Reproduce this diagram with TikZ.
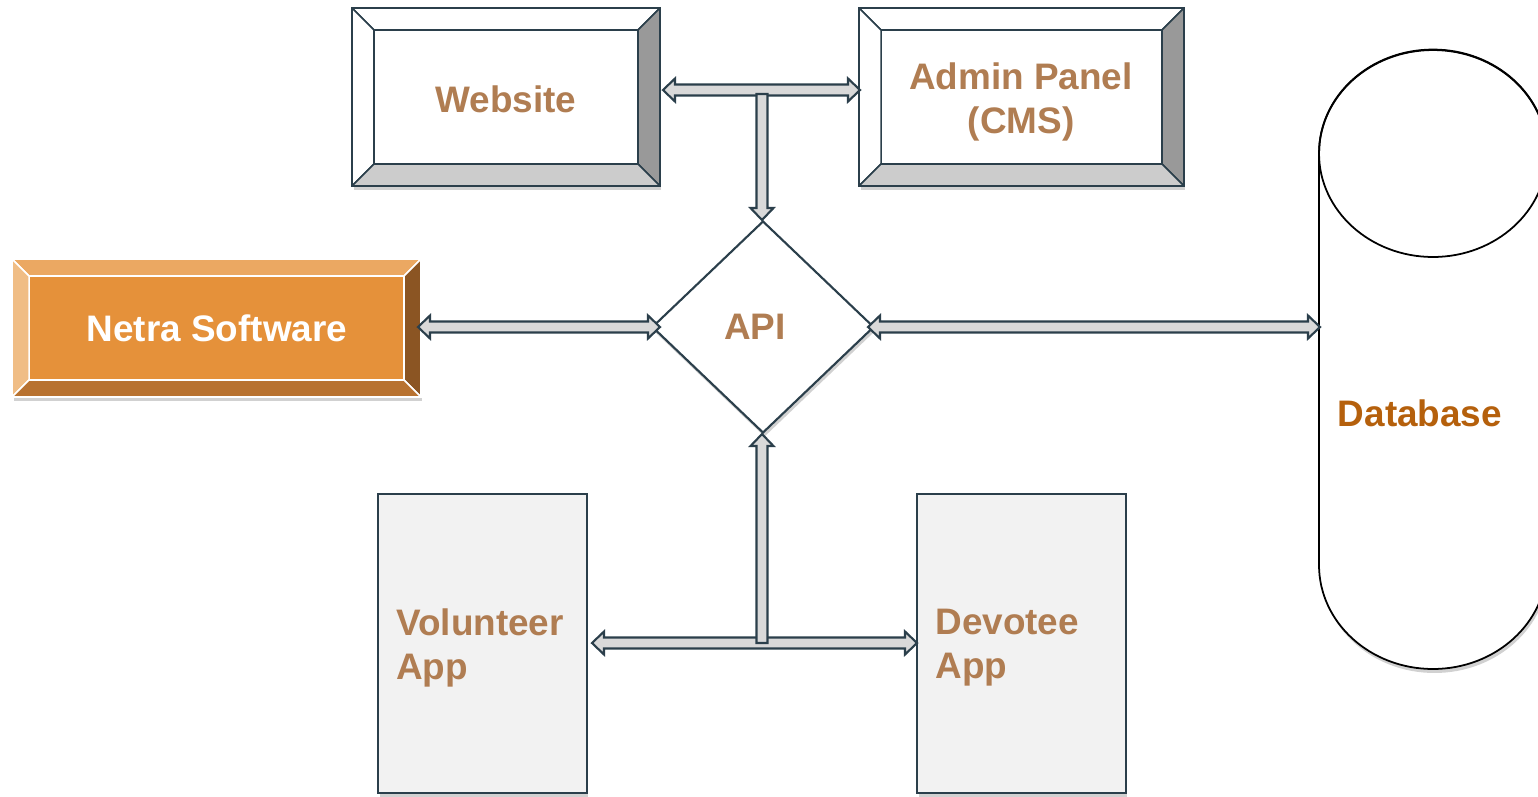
\documentclass[tikz,border=0pt]{standalone}
\usepackage{fontspec}
\setmainfont{Liberation Sans}
\usetikzlibrary{calc,shapes.geometric,shadows}
\definecolor{edge}{HTML}{2B3F4B}
\definecolor{txt}{HTML}{B07D52}
\definecolor{dbtxt}{HTML}{B5600C}
\definecolor{arrfill}{HTML}{D9D9D9}
\definecolor{bevR}{HTML}{999999}
\definecolor{bevB}{HTML}{CCCCCC}
\definecolor{nFace}{HTML}{E5913A}
\definecolor{nTop}{HTML}{EBA862}
\definecolor{nLeft}{HTML}{F0BD85}
\definecolor{nRight}{HTML}{8B5523}
\definecolor{nBot}{HTML}{B87230}
\definecolor{appfill}{HTML}{F2F2F2}
\def\aL{0.24cm}\def\aH{0.23cm}\def\aS{0.11cm}
\tikzset{
  lbl/.style={font=\fontsize{21}{25}\selectfont\bfseries, text=txt, align=center, inner sep=0},
  blockarrow/.style={draw=edge, fill=arrfill, line width=1.2pt, line join=miter},
  myshadow/.style={drop shadow={shadow xshift=0.03cm, shadow yshift=-0.08cm, opacity=0.18, fill=black}},
  boxnode/.style={rectangle, inner sep=0, outer sep=0},
  appbox/.style={rectangle, inner sep=0, outer sep=0, draw=edge, fill=appfill, line width=1.3pt,
    minimum width=4.18cm, minimum height=5.98cm, myshadow},
}
% bevel: #1 node, #2 bevel px, #3 top, #4 left, #5 right, #6 bottom, #7 line colour
\newcommand\bevel[7]{%
  \coordinate (#1-a) at ($(#1.north west)+(#2,#2)$);
  \coordinate (#1-b) at ($(#1.north east)+(-#2,#2)$);
  \coordinate (#1-c) at ($(#1.south east)+(-#2,-#2)$);
  \coordinate (#1-d) at ($(#1.south west)+(#2,-#2)$);
  \filldraw[fill=#3, draw=#7, line width=0.9pt, line join=round] (#1.north west) -- (#1.north east) -- (#1-b) -- (#1-a) -- cycle;
  \filldraw[fill=#4, draw=#7, line width=0.9pt, line join=round] (#1.north west) -- (#1-a) -- (#1-d) -- (#1.south west) -- cycle;
  \filldraw[fill=#5, draw=#7, line width=0.9pt, line join=round] (#1.north east) -- (#1.south east) -- (#1-c) -- (#1-b) -- cycle;
  \filldraw[fill=#6, draw=#7, line width=0.9pt, line join=round] (#1.south west) -- (#1-d) -- (#1-c) -- (#1.south east) -- cycle;
  \draw[draw=#7, line width=1.6pt] (#1.north west) rectangle (#1.south east);
}
\newcommand\hdbl[2]{\draw[blockarrow] let \p1=(#1), \p2=(#2) in
  (\x1,\y1) -- (\x1+\aL,\y1+\aH) -- (\x1+\aL,\y1+\aS) -- (\x2-\aL,\y1+\aS) -- (\x2-\aL,\y1+\aH)
  -- (\x2,\y1) -- (\x2-\aL,\y1-\aH) -- (\x2-\aL,\y1-\aS) -- (\x1+\aL,\y1-\aS) -- (\x1+\aL,\y1-\aH) -- cycle;}
\newcommand\vdown[2]{\draw[blockarrow] let \p1=(#1), \p2=(#2) in
  (\x1-\aS,\y1) -- (\x1-\aS,\y2+\aL) -- (\x1-\aH,\y2+\aL) -- (\x1,\y2) -- (\x1+\aH,\y2+\aL)
  -- (\x1+\aS,\y2+\aL) -- (\x1+\aS,\y1) -- cycle;}
\newcommand\vup[2]{\draw[blockarrow] let \p1=(#1), \p2=(#2) in
  (\x1-\aS,\y1) -- (\x1-\aS,\y2-\aL) -- (\x1-\aH,\y2-\aL) -- (\x1,\y2) -- (\x1+\aH,\y2-\aL)
  -- (\x1+\aS,\y2-\aL) -- (\x1+\aS,\y1) -- cycle;}
\begin{document}
\begin{tikzpicture}[x=0.02cm, y=-0.02cm]
\clip (0,0) rectangle (1538,796);
\fill[white] (0,0) rectangle (1538,796);

% Website
\node[boxnode, fill=white, minimum width=6.16cm, minimum height=3.56cm, myshadow] (web) at (506,97) {};
\bevel{web}{22}{white}{white}{bevR}{bevB}{edge}
\node[lbl] (webt) at (506,99) {Website};

% Admin Panel
\node[boxnode, fill=white, minimum width=6.5cm, minimum height=3.56cm, myshadow] (adm) at (1021.5,97) {};
\bevel{adm}{22}{white}{white}{bevR}{bevB}{edge}
\node[lbl] (admt) at (1021,102) {Admin Panel\\(CMS)};

% Netra Software
\node[boxnode, fill=nFace, minimum width=8.18cm, minimum height=2.76cm, myshadow] (net) at (216.5,328) {};
\bevel{net}{17}{nTop}{nLeft}{nRight}{nBot}{white}
\node[lbl, text=white] (nett) at (217,328) {Netra Software};

% API
\node[diamond, draw=edge, fill=white, line width=1.2pt, minimum width=4.44cm, minimum height=4.24cm,
      inner sep=0, myshadow] (api) at (763,327) {};
\node[lbl] (apit) at (755,327) {API};

% Apps
\node[appbox] (vol) at (482.5,643.5) {};
\node[lbl, align=left, anchor=west] (volt) at (396,648) {Volunteer\\App};
\node[appbox] (dev) at (1021.5,643.5) {};
\node[lbl, align=left, anchor=west] (devt) at (935,648) {Devotee\\App};

% Database
\draw[fill=white, draw=black, line width=1pt, myshadow] (1319,153) -- (1319,565)
  arc[start angle=180, end angle=360, x radius=2.28cm, y radius=2.08cm] -- (1547,153)
  arc[start angle=0, end angle=180, x radius=2.28cm, y radius=2.07cm] -- cycle;
\draw[draw=black, line width=1pt] (1433,153.5) ellipse [x radius=2.28cm, y radius=2.07cm];
\node[lbl, text=dbtxt] (dbt) at (1420,413) {Database};

% connector end points
\coordinate (w1) at (663,90);
\coordinate (a1) at (860,90);
\coordinate (tj) at (762,94);
\coordinate (n1) at (418,327);
\coordinate (n2) at (660,327);
\coordinate (p1) at (868,327);
\coordinate (d1) at (1320,327);
\coordinate (bj) at (762,643);
\coordinate (v1) at (592,643);
\coordinate (e1) at (917,643);

\hdbl{w1}{a1}
\vdown{tj}{api.north}
\hdbl{n1}{n2}
\hdbl{p1}{d1}
\hdbl{v1}{e1}
\vup{bj}{api.south}
\end{tikzpicture}
\end{document}
